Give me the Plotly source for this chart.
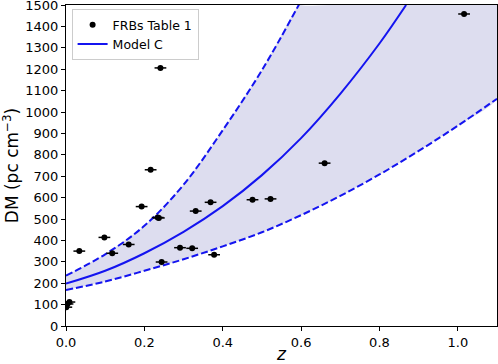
import plotly.graph_objects as go

# FRB data (redshift, DM)
frb_z = [0.0008, 0.0039, 0.0087, 0.034, 0.098, 0.118, 0.160, 0.193, 0.216, 0.234, 0.237,
         0.241, 0.244, 0.291, 0.322, 0.331, 0.369, 0.378, 0.476, 0.522, 0.660, 1.016]
frb_dm = [88, 103, 112, 350, 414, 340, 381, 558, 730, 507, 505,
          1206, 299, 366, 363, 537, 578, 333, 590, 594, 761, 1458]
frb_zerr = [0.015] * len(frb_z)

# Model C curves
mid_z = [0.0, 0.1, 0.2, 0.3, 0.4, 0.5, 0.6, 0.7, 0.8, 0.868]
mid_dm = [198, 258, 340, 440, 560, 705, 878, 1085, 1320, 1500]

up_z = [0.0, 0.1, 0.2, 0.3, 0.4, 0.5, 0.6]
up_dm = [235, 335, 468, 660, 915, 1195, 1520]

lo_z = [0.0, 0.1, 0.2, 0.3, 0.4, 0.5, 0.6, 0.7, 0.8, 0.9, 1.0, 1.1]
lo_dm = [168, 208, 258, 312, 372, 438, 518, 608, 708, 818, 936, 1062]

X_RANGE = [0, 1.1]
Y_RANGE = [0, 1500]
x_ticks = [0.0, 0.2, 0.4, 0.6, 0.8, 1.0]
y_ticks = list(range(0, 1501, 100))

BLUE = "rgb(20,20,240)"
FILL = "rgb(221,221,239)"
FONT = "DejaVu Sans"

fig = go.Figure()

# shaded band polygon: lower curve forward, top edge, upper curve backward
poly_x = lo_z + [X_RANGE[1], up_z[-1]] + up_z[::-1]
poly_y = lo_dm + [Y_RANGE[1], Y_RANGE[1]] + up_dm[::-1]
fig.add_trace(go.Scatter(x=poly_x, y=poly_y, mode="lines", line=dict(width=0, shape="spline", smoothing=0.6),
                         fill="toself", fillcolor=FILL, showlegend=False, hoverinfo="skip"))

fig.add_trace(go.Scatter(x=lo_z, y=lo_dm, mode="lines",
                         line=dict(color=BLUE, width=2, dash="7px,3px", shape="spline"),
                         showlegend=False))
fig.add_trace(go.Scatter(x=up_z, y=up_dm, mode="lines",
                         line=dict(color=BLUE, width=2, dash="7px,3px", shape="spline"),
                         showlegend=False))
fig.add_trace(go.Scatter(x=mid_z, y=mid_dm, mode="lines", name="Model C",
                         line=dict(color=BLUE, width=2, shape="spline"), legendrank=2))
fig.add_trace(go.Scatter(x=frb_z, y=frb_dm, mode="markers", name="FRBs Table 1",
                         marker=dict(color="black", size=6),
                         error_x=dict(type="data", array=frb_zerr, color="black", thickness=1.5, width=0),
                         legendrank=1))

axis_common = dict(showline=True, linecolor="black", linewidth=1, mirror=True,
                   ticks="outside", ticklen=4, tickwidth=1, tickcolor="black",
                   showgrid=False, zeroline=False, ticklabeloverflow="allow",
                   tickfont=dict(family=FONT, size=13, color="black"))

fig.update_xaxes(range=X_RANGE, tickvals=x_ticks, ticktext=[f"{v:.1f}" for v in x_ticks],
                 title=dict(text="<i>z</i>", font=dict(family=FONT, size=17, color="black"), standoff=2),
                 **axis_common)
fig.update_yaxes(range=Y_RANGE, tickvals=y_ticks, ticktext=[str(v) for v in y_ticks],
                 title=dict(text="DM (pc cm<sup>−3</sup>)", font=dict(family=FONT, size=17, color="black"), standoff=8),
                 **axis_common)

fig.update_layout(
    width=498, height=364,
    margin=dict(l=66, r=1, t=5, b=38, autoexpand=False),
    plot_bgcolor="white", paper_bgcolor="white",
    font=dict(family=FONT, size=13, color="black"),
    legend=dict(x=0.013, y=0.987, xanchor="left", yanchor="top",
                bgcolor="rgba(255,255,255,0.8)", bordercolor="rgb(204,204,204)", borderwidth=1,
                font=dict(family=FONT, size=12.5), tracegroupgap=0, itemwidth=30),
)

fig.write_html("out.html", config={"displayModeBar": False},
               post_script="document.body.style.margin='0';document.body.style.overflow='hidden';")
